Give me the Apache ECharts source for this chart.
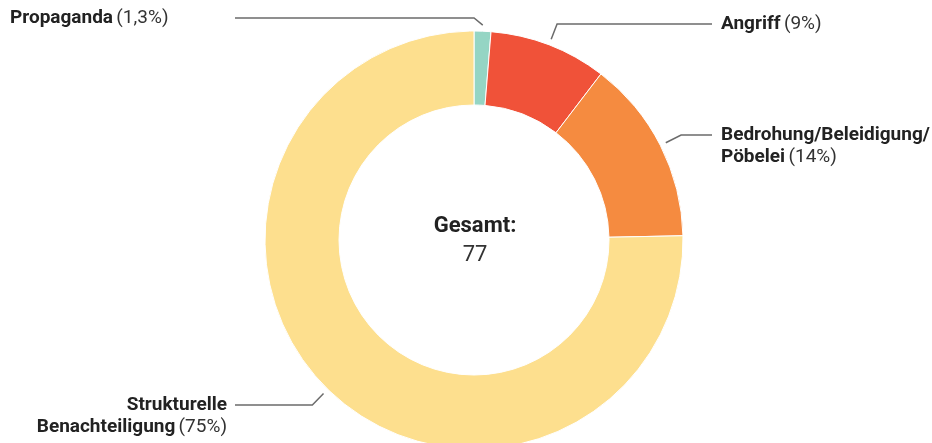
<!DOCTYPE html>
<html><head><meta charset="utf-8">
<script src="https://cdn.jsdelivr.net/npm/echarts@6/dist/echarts.min.js"></script>
<style>html,body{margin:0;padding:0;background:#fff}#c{width:932px;height:443px}</style>
</head><body><div id="c"></div>
<script>
const categories = ['Propaganda', 'Angriff', 'Bedrohung/Beleidigung/\nPöbelei', 'Strukturelle\nBenachteiligung'];
const values = [1, 7, 11, 58];
const percentLabels = ['1,3', '9', '14', '75'];
const colors = ['#95d5c4', '#f05239', '#f58b40', '#fddf8e'];
const totalTitle = 'Gesamt:';

const labelPlaces = [
  { lineY: 18, lineEnd: 235, textX: 10, align: 'left', bendDx: -9 },
  { lineY: 24, lineEnd: 712, textX: 721, align: 'left' },
  { lineY: 135, lineEnd: 712, textX: 721, align: 'left' },
  { lineY: 405, lineEnd: 235, textX: 227, align: 'right' }
];

const total = values.reduce((a, b) => a + b, 0);
const FONT = 'Roboto, "Noto Sans", sans-serif';

function labelText(i) {
  const lines = categories[i].split('\n');
  return lines.map((l, k) => '{b|' + l + '}' + (k === lines.length - 1 ? ' {n|(' + percentLabels[i] + '%)}' : '')).join('\n');
}

const chart = echarts.init(document.getElementById('c'), null, { renderer: 'canvas' });
chart.setOption({
  animation: false,
  backgroundColor: '#ffffff',
  graphic: [{
    type: 'text', x: 475, y: 241,
    style: {
      text: '{b|' + totalTitle + '}\n{n|' + total + '}',
      align: 'center', verticalAlign: 'middle',
      rich: {
        b: { fontSize: 22, fontWeight: 'bold', fill: '#222', lineHeight: 29, fontFamily: FONT },
        n: { fontSize: 22, fill: '#333', lineHeight: 29, fontFamily: FONT }
      }
    }
  }],
  series: [{
    type: 'pie',
    center: [474, 240],
    radius: [135, 209],
    startAngle: 90,
    clockwise: true,
    avoidLabelOverlap: false,
    itemStyle: { borderColor: '#fff', borderWidth: 1 },
    data: categories.map((c, i) => ({ name: c, value: values[i], itemStyle: { color: colors[i] } })),
    label: {
      show: true,
      formatter: p => labelText(p.dataIndex),
      rich: {
        b: { fontSize: 19, fontWeight: 'bold', color: '#222', lineHeight: 22, fontFamily: FONT },
        n: { fontSize: 19, color: '#333', lineHeight: 22, fontFamily: FONT }
      }
    },
    labelLine: { show: true, length: 15, length2: 20, smooth: false, lineStyle: { color: '#6b6b6b', width: 1.5 } },
    emphasis: { disabled: true },
    labelLayout: function (p) {
      const c = labelPlaces[p.dataIndex];
      const pts = p.labelLinePoints;
      const dx = pts[1][0] - pts[0][0], dy = pts[1][1] - pts[0][1];
      const len = Math.hypot(dx, dy) || 1;
      const ux = dx / len, uy = dy / len;
      const p0 = [pts[0][0] + ux * 6, pts[0][1] + uy * 6];
      const t = Math.abs(uy) > 0.01 ? (c.lineY - p0[1]) / uy : 0;
      const p1 = [p0[0] + ux * t + (c.bendDx || 0), c.lineY];
      return {
        x: c.textX, y: c.lineY - 11, align: c.align, verticalAlign: 'top',
        labelLinePoints: [p0, p1, [c.lineEnd, c.lineY]]
      };
    }
  }]
});
</script></body></html>
